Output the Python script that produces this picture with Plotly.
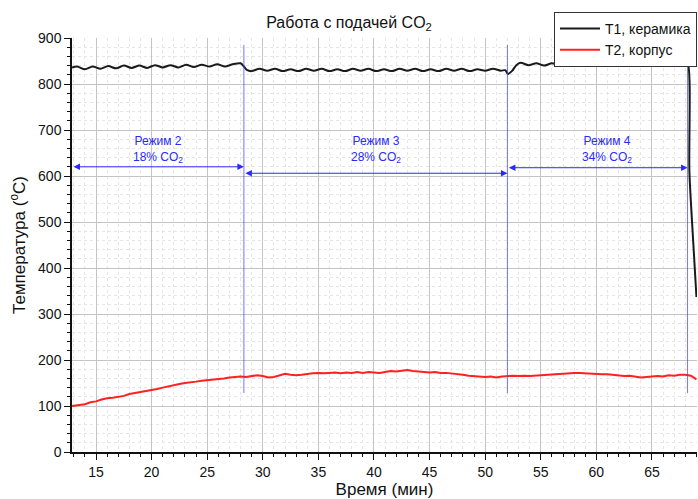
import plotly.graph_objects as go

# T1 (ceramic) temperature, min / °C
t1_time = [12.84, 13.3, 14.0, 14.7, 15.4, 16.1, 16.8, 17.5, 18.2, 18.9, 19.6, 20.3, 21.0,
           21.7, 22.4, 23.1, 23.8, 24.5, 25.2, 25.9, 26.6, 27.3, 28.0, 28.3, 28.6,
           29.0, 29.7, 30.4, 31.1, 31.8, 32.5, 33.2, 33.9, 34.6, 35.3, 36.0, 36.7, 37.4,
           38.1, 38.8, 39.5, 40.2, 40.9, 41.6, 42.3, 43.0, 43.7, 44.4, 45.1, 45.8, 46.5,
           47.2, 47.9, 48.6, 49.3, 50.0, 50.7, 51.4, 51.8, 52.05, 52.4, 52.8, 53.2,
           53.9, 54.6, 55.3, 56.0, 56.7, 57.4, 58.1, 58.8, 59.5, 60.2, 60.9, 61.6, 62.3,
           63.0, 63.7, 64.4, 65.1, 65.8, 66.5, 67.2, 67.9, 68.2, 68.37, 68.7, 69.0]
t1_temp = [836, 838, 832, 838, 833, 839, 834, 840, 835, 840, 835, 841, 836,
           841, 836, 842, 837, 842, 838, 843, 838, 843, 845, 838, 830,
           828, 833, 829, 833, 828, 832, 828, 833, 829, 833, 828, 832, 828,
           833, 829, 833, 828, 832, 828, 833, 829, 833, 828, 832, 828, 833,
           829, 833, 828, 832, 829, 833, 829, 830, 822, 828, 841, 846,
           841, 845, 840, 845, 840, 845, 840, 845, 841, 845, 840, 845, 840,
           845, 840, 845, 840, 845, 840, 845, 841, 845, 607, 461, 337]

# T2 (housing) temperature, min / °C
t2_time = [12.84, 13.5, 14.0, 14.5, 15.0, 15.5, 16.0, 16.5, 17.0, 17.5, 18.0, 18.5, 19.0,
           19.5, 20.0, 20.5, 21.0, 21.5, 22.0, 22.5, 23.0, 23.5, 24.0, 24.5, 25.0, 25.5,
           26.0, 26.5, 27.0, 27.5, 28.0, 28.5, 29.0, 29.5, 30.0, 30.5, 31.0, 31.5, 32.0,
           32.5, 33.0, 33.5, 34.0, 34.5, 35.0, 35.5, 36.0, 36.5, 37.0, 37.5, 38.0, 38.5,
           39.0, 39.5, 40.0, 40.5, 41.0, 41.5, 42.0, 42.5, 43.0, 43.5, 44.0, 44.5, 45.0,
           45.5, 46.0, 46.5, 47.0, 47.5, 48.0, 48.5, 49.0, 49.5, 50.0, 50.5, 51.0, 51.5,
           52.0, 52.5, 53.0, 53.5, 54.0, 54.5, 55.0, 55.5, 56.0, 56.5, 57.0, 57.5, 58.0,
           58.5, 59.0, 59.5, 60.0, 60.5, 61.0, 61.5, 62.0, 62.5, 63.0, 63.5, 64.0, 64.5,
           65.0, 65.5, 66.0, 66.5, 67.0, 67.5, 68.0, 68.5, 69.0]
t2_temp = [100, 103, 104, 108, 110, 114, 117, 118, 120, 122, 126, 128, 130,
           133, 135, 137, 140, 143, 145, 148, 150, 151, 153, 155, 156, 158,
           159, 160, 162, 163, 164, 163, 165, 167, 165, 162, 163, 167, 170,
           168, 167, 168, 170, 171, 172, 171, 172, 173, 171, 173, 172, 174,
           172, 174, 173, 172, 174, 176, 175, 177, 178, 176, 175, 174, 173,
           174, 172, 172, 171, 170, 168, 166, 165, 163, 163, 164, 162, 164,
           165, 166, 165, 166, 165, 166, 167, 168, 169, 170, 171, 171, 172,
           172, 171, 170, 170, 169, 169, 168, 167, 165, 166, 164, 162, 163,
           164, 165, 164, 167, 166, 168, 168, 166, 158]

# Regime boundaries (min) and labels
bounds = [12.84, 28.3, 52.0, 68.2]
marker_tops = [885, 885, 875]
marker_bottom = 128
arrow_levels = [620, 606, 618]
regime_labels = ["Режим 2<br>18% CO<sub>2</sub>",
                 "Режим 3<br>28% CO<sub>2</sub>",
                 "Режим 4<br>34% CO<sub>2</sub>"]
label_x = [20.57, 40.15, 61.0]
label_y = 657

FONT = "Liberation Sans, Arial, sans-serif"
BLUE = "#2a2aff"

fig = go.Figure()
fig.add_trace(go.Scatter(x=t1_time, y=t1_temp, mode="lines", name="T1, керамика",
                         line=dict(color="#1a1a1a", width=2, shape="spline", smoothing=0.8)))
fig.add_trace(go.Scatter(x=t2_time, y=t2_temp, mode="lines", name="T2, корпус",
                         line=dict(color="#ff2020", width=2)))

# vertical regime markers
for i, b in enumerate(bounds[1:]):
    fig.add_shape(type="line", x0=b, x1=b, y0=marker_bottom, y1=marker_tops[i],
                  xref="x", yref="y", line=dict(color="rgba(70,70,255,0.75)", width=1))

# double-headed arrows + labels
for i in range(3):
    fig.add_annotation(x=bounds[i + 1], y=arrow_levels[i], ax=bounds[i], ay=arrow_levels[i],
                       xref="x", yref="y", axref="x", ayref="y", text="",
                       showarrow=True, arrowhead=2, startarrowhead=2, arrowside="end+start",
                       arrowsize=1.3, startarrowsize=1.3, arrowwidth=1, arrowcolor=BLUE)
    fig.add_annotation(x=label_x[i], y=label_y, xref="x", yref="y", text=regime_labels[i],
                       showarrow=False, font=dict(family=FONT, size=12, color=BLUE),
                       align="center")

fig.update_layout(
    width=698, height=499,
    margin=dict(l=72, r=1, t=38, b=47),
    paper_bgcolor="white", plot_bgcolor="white",
    font=dict(family=FONT, color="#111"),
    title=dict(text="Работа с подачей CO<sub>2</sub>", x=0.5, xanchor="center",
               y=0.955, yanchor="middle", font=dict(size=16, family=FONT, color="#111")),
    showlegend=True,
    legend=dict(x=1.0, xanchor="right", y=1.063, yanchor="top",
                bgcolor="white", bordercolor="#333", borderwidth=1,
                font=dict(size=14, family=FONT), tracegroupgap=0,
                itemwidth=40),
)

fig.update_xaxes(
    range=[12.84, 69.05], tickvals=[15, 20, 25, 30, 35, 40, 45, 50, 55, 60, 65],
    showline=True, linecolor="#111", linewidth=1.5, ticks="outside", ticklen=6,
    tickcolor="#111", tickfont=dict(size=14, family=FONT),
    showgrid=True, gridcolor="#c4c4c4", gridwidth=1, zeroline=False,
    minor=dict(dtick=1, tick0=0, ticks="outside", ticklen=3, tickcolor="#111",
               showgrid=True, gridcolor="#e6e6e6", griddash="3px,3px", gridwidth=1),
    title=dict(text="Время (мин)", font=dict(size=17, family=FONT), standoff=6),
)
fig.update_yaxes(
    range=[0, 900], dtick=100, tick0=0,
    showline=True, linecolor="#111", linewidth=1.5, ticks="outside", ticklen=6,
    tickcolor="#111", tickfont=dict(size=14, family=FONT),
    showgrid=True, gridcolor="#c4c4c4", gridwidth=1, zeroline=False,
    minor=dict(dtick=20, tick0=0, ticks="outside", ticklen=3, tickcolor="#111",
               showgrid=True, gridcolor="#e6e6e6", griddash="3px,3px", gridwidth=1),
    title=dict(text="Температура (<sup>o</sup>C)", font=dict(size=17, family=FONT), standoff=8),
)

fig.write_html("out.html")
